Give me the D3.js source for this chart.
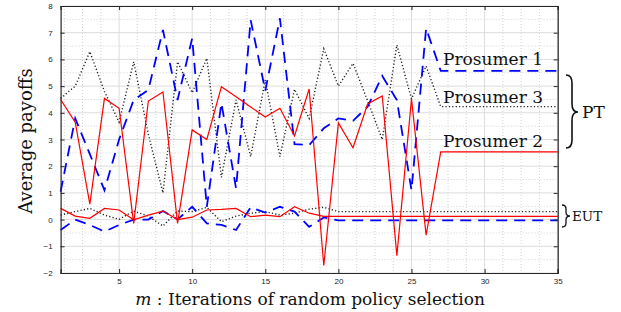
<!doctype html>
<html lang="en">
<head>
    <meta charset="UTF-8">
    <title>payoffs</title>
    <script src="https://d3js.org/d3.v7.min.js"></script>
    <style>
        body { margin: 0; background: #fff; }
    </style>
</head>
<body>
<script>
  // iterations m
  var iters = [1,2,3,4,5,6,7,8,9,10,11,12,13,14,15,16,17,18,19,20,21,22,23,24,25,26,27,28,29,30,31,32,33,34,35];

  // PT
  var pt1 = [1.05,3.79,2.45,1.1,3.0,4.48,4.86,7.1,4.48,6.79,0.48,4.36,1.17,7.47,4.83,7.54,2.83,2.79,3.42,3.79,3.7,4.23,5.38,4.48,1.1,7.16,5.57,5.57,5.57,5.57,5.57,5.57,5.57,5.57,5.57];
  var pt2 = [4.5,3.65,0.58,4.54,4.17,-0.14,4.44,4.78,-0.14,3.36,3.0,4.98,4.6,4.22,3.84,4.17,3.13,4.89,-1.72,3.62,2.69,4.33,4.63,-1.35,4.52,-0.58,2.54,2.54,2.54,2.54,2.54,2.54,2.54,2.54,2.54];
  var pt3 = [4.54,5.0,6.29,4.8,3.65,5.91,3.2,1.0,5.91,4.75,6.04,1.58,4.48,2.36,5.23,2.36,4.88,3.79,6.4,5.0,5.85,4.45,3.0,6.54,4.52,5.75,4.23,4.23,4.23,4.23,4.23,4.23,4.23,4.23,4.23];

  // EUT
  var eut1 = [-0.39,0.0,-0.2,-0.45,-0.2,0.0,0.0,0.32,0.01,0.48,-0.14,-0.2,-0.39,0.46,0.26,0.48,0.3,-0.27,0.08,-0.03,-0.03,-0.03,-0.03,-0.03,-0.03,-0.03,-0.03,-0.03,-0.03,-0.03,-0.03,-0.03,-0.03,-0.03,-0.03];
  var eut2 = [0.42,0.13,0.05,0.42,0.36,-0.01,0.17,0.32,0.0,0.09,0.36,0.38,0.42,0.11,0.17,0.11,0.48,0.24,0.12,0.12,0.12,0.12,0.12,0.12,0.12,0.12,0.12,0.12,0.12,0.12,0.12,0.12,0.12,0.12,0.12];
  var eut3 = [0.17,0.3,0.42,0.17,0.01,0.32,0.13,-0.24,0.32,0.3,0.46,-0.08,0.13,0.24,0.3,0.17,0.24,0.39,0.46,0.3,0.3,0.3,0.3,0.3,0.3,0.3,0.3,0.3,0.3,0.3,0.3,0.3,0.3,0.3,0.3];

  var xTicks = [5,10,15,20,25,30,35];
  var yTicks = [-2,-1,0,1,2,3,4,5,6,7,8];

  var W = 621, H = 312;
  var pL = 60.6, pR = 557.7, pT = 6, pB = 273;

  var svg = d3.select("body").append("svg")
      .attr("width", W)
      .attr("height", H);

  var x = d3.scaleLinear().domain([1, 35]).range([pL, pR]);
  var y = d3.scaleLinear().domain([-2, 8]).range([pB, pT]);

  // minor grid (dotted)
  var g = svg.append("g");
  g.selectAll(".mx").data(d3.range(1.25, 35, 1.25).filter(function(d){ return d % 5 !== 0; }))
      .enter().append("line")
      .attr("x1", function(d){ return x(d); }).attr("x2", function(d){ return x(d); })
      .attr("y1", pT).attr("y2", pB)
      .attr("stroke", "#c8c8c8").attr("stroke-width", 0.8).attr("stroke-dasharray", "1,2");
  g.selectAll(".my").data(d3.range(-1.5, 8, 1))
      .enter().append("line")
      .attr("y1", function(d){ return y(d); }).attr("y2", function(d){ return y(d); })
      .attr("x1", pL).attr("x2", pR)
      .attr("stroke", "#c8c8c8").attr("stroke-width", 0.8).attr("stroke-dasharray", "1,2");

  // major grid
  g.selectAll(".gx").data(xTicks)
      .enter().append("line")
      .attr("x1", function(d){ return x(d); }).attr("x2", function(d){ return x(d); })
      .attr("y1", pT).attr("y2", pB)
      .attr("stroke", "#dcdcdc").attr("stroke-width", 1);
  g.selectAll(".gy").data(yTicks)
      .enter().append("line")
      .attr("y1", function(d){ return y(d); }).attr("y2", function(d){ return y(d); })
      .attr("x1", pL).attr("x2", pR)
      .attr("stroke", "#dcdcdc").attr("stroke-width", 1);

  // lines
  function series(vals) {
    return vals.map(function(v, i){ return {m: iters[i], v: v}; });
  }
  var line = d3.line()
      .x(function(d){ return x(d.m); })
      .y(function(d){ return y(d.v); });

  var styles = [
    {data: pt3, color: "#222", w: 1.4, dash: "1.2,2.2"},
    {data: eut3, color: "#222", w: 1.4, dash: "1.2,2.2"},
    {data: pt1, color: "#0000ff", w: 1.8, dash: "11,7"},
    {data: eut1, color: "#0000ff", w: 1.8, dash: "11,7"},
    {data: pt2, color: "#ff0000", w: 1.2, dash: null},
    {data: eut2, color: "#ff0000", w: 1.2, dash: null}
  ];
  styles.forEach(function(s) {
    svg.append("path")
        .datum(series(s.data))
        .attr("d", line)
        .attr("fill", "none")
        .attr("stroke", s.color)
        .attr("stroke-width", s.w)
        .attr("stroke-dasharray", s.dash);
  });

  // axes
  var axisColor = "#262626";
  svg.append("g").attr("transform", "translate(0," + pB + ")")
      .call(d3.axisBottom(x).tickValues(xTicks).tickSize(-4).tickPadding(5));
  svg.append("g").attr("transform", "translate(" + pL + ",0)")
      .call(d3.axisLeft(y).tickValues(yTicks).tickSize(-4).tickPadding(8));
  svg.append("g").attr("transform", "translate(0," + pT + ")")
      .call(d3.axisTop(x).tickValues(xTicks).tickSize(-4).tickFormat(""));
  svg.append("g").attr("transform", "translate(" + pR + ",0)")
      .call(d3.axisRight(y).tickValues(yTicks).tickSize(-4).tickFormat(""));
  svg.selectAll(".domain").attr("stroke", axisColor).attr("stroke-width", 1.2);
  svg.selectAll(".tick line").attr("stroke", axisColor);
  svg.selectAll(".tick text")
      .attr("fill", axisColor)
      .style("font-family", "'Liberation Sans', Arial, sans-serif")
      .style("font-size", "8px");

  // annotations
  var serif = "'DejaVu Serif', serif";
  var notes = [
    {t: "Prosumer 1", x: 443, y: 65},
    {t: "Prosumer 3", x: 443, y: 103},
    {t: "Prosumer 2", x: 443, y: 147}
  ];
  svg.selectAll(".note").data(notes).enter().append("text")
      .attr("x", function(d){ return d.x; })
      .attr("y", function(d){ return d.y; })
      .text(function(d){ return d.t; })
      .style("font-family", serif)
      .style("font-size", "17px")
      .attr("fill", "#111");

  // braces
  svg.append("path")
      .attr("d", "M566,75 Q572,75 572,83 L572,104 Q572,112 578,112 Q572,112 572,120 L572,140 Q572,148 566,148")
      .attr("fill", "none").attr("stroke", "#111").attr("stroke-width", 1.6);
  svg.append("text").attr("x", 582).attr("y", 118).text("PT")
      .style("font-family", serif).style("font-size", "17px").attr("fill", "#111");
  svg.append("path")
      .attr("d", "M562,205 Q566,205 566,209 L566,212 Q566,216 570,216 Q566,216 566,220 L566,223 Q566,227 562,227")
      .attr("fill", "none").attr("stroke", "#111").attr("stroke-width", 1.3);
  svg.append("text").attr("x", 572).attr("y", 221).text("EUT")
      .style("font-family", serif).style("font-size", "13.5px").attr("fill", "#111");

  // axis labels
  var xl = svg.append("text")
      .attr("x", (pL + pR) / 2 + 1)
      .attr("y", 305)
      .attr("text-anchor", "middle")
      .style("font-family", serif)
      .style("font-size", "17px")
      .attr("fill", "#111");
  xl.append("tspan").style("font-style", "italic").text("m");
  xl.append("tspan").text(" : Iterations of random policy selection");

  svg.append("text")
      .attr("transform", "translate(32,141) rotate(-90)")
      .attr("text-anchor", "middle")
      .style("font-family", serif)
      .style("font-size", "18px")
      .attr("fill", "#111")
      .text("Average payoffs");
</script>
</body>
</html>
